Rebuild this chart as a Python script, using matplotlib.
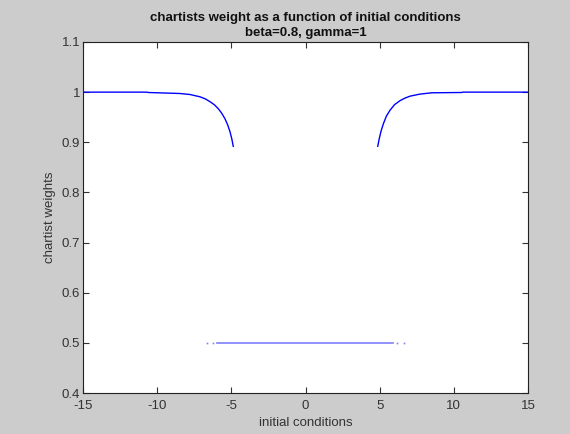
import matplotlib
matplotlib.use("Agg")
import matplotlib.pyplot as plt

# Left branch (chartist weight near 1)
left_x = [-15.0, -10.7, -10.6, -8.46, -7.79, -7.11, -6.75, -6.44, -6.15, -5.88, -5.65, -5.43, -5.25, -5.09, -4.97, -4.87]
left_y = [1.0, 1.0, 0.9993, 0.9973, 0.9953, 0.9907, 0.9865, 0.981, 0.975, 0.967, 0.958, 0.947, 0.935, 0.921, 0.907, 0.892]
# Right branch
right_x = [4.87, 4.97, 5.09, 5.25, 5.45, 5.70, 6.0, 6.37, 6.7, 7.05, 7.7, 8.51, 10.53, 10.6, 15.0]
right_y = [0.892, 0.907, 0.922, 0.937, 0.952, 0.964, 0.975, 0.983, 0.988, 0.992, 0.996, 0.9987, 0.9993, 1.0, 1.0]
# Middle branch at 0.5
mid_x = [-5.99, 5.92]
mid_y = [0.5, 0.5]
mid_dots_x = [-6.66, -6.22, 6.15, 6.66]
mid_dots_y = [0.5, 0.5, 0.5, 0.5]

xticks = [-15, -10, -5, 0, 5, 10, 15]
yticks = [0.4, 0.5, 0.6, 0.7, 0.8, 0.9, 1.0, 1.1]
ytick_labels = ["0.4", "0.5", "0.6", "0.7", "0.8", "0.9", "1", "1.1"]

plt.rcParams['font.family'] = ['Liberation Sans', 'DejaVu Sans']
plt.rcParams['axes.unicode_minus'] = False

fig = plt.figure(figsize=(5.7, 4.34), dpi=100, facecolor='#cccccc')
ax = fig.add_axes([83/570, 1-393/434, 445/570, 351/434])
ax.set_facecolor('white')

ax.plot(left_x, left_y, color='#0000ff', lw=1.0)
ax.plot(right_x, right_y, color='#0000ff', lw=1.0)
ax.plot(mid_x, mid_y, color='#7f7fff', lw=1.2)
ax.plot(mid_dots_x, mid_dots_y, ls='none', marker='s', ms=1.2, mew=0, color='#8080ff')

ax.set_xlim(-15, 15)
ax.set_ylim(0.4, 1.1)
ax.set_xticks(xticks)
ax.set_yticks(yticks)
ax.set_yticklabels(ytick_labels)
ax.tick_params(direction='in', length=4, width=0.8, top=True, right=True,
               labelsize=9.5, colors='#333333')
ax.tick_params(axis='x', pad=5)
ax.tick_params(axis='y', pad=2)
for s in ax.spines.values():
    s.set_linewidth(0.8)
    s.set_color('#222222')

ax.set_title("chartists weight as a function of initial conditions\nbeta=0.8, gamma=1",
             fontsize=9.5, fontweight='bold', pad=4, linespacing=1.35, color='#111111')
ax.set_xlabel("initial conditions", fontsize=9.5, labelpad=4, color='#333333')
ax.set_ylabel("chartist weights", fontsize=9.5, labelpad=4, color='#333333')

fig.savefig("out.png", dpi=100, facecolor=fig.get_facecolor())
